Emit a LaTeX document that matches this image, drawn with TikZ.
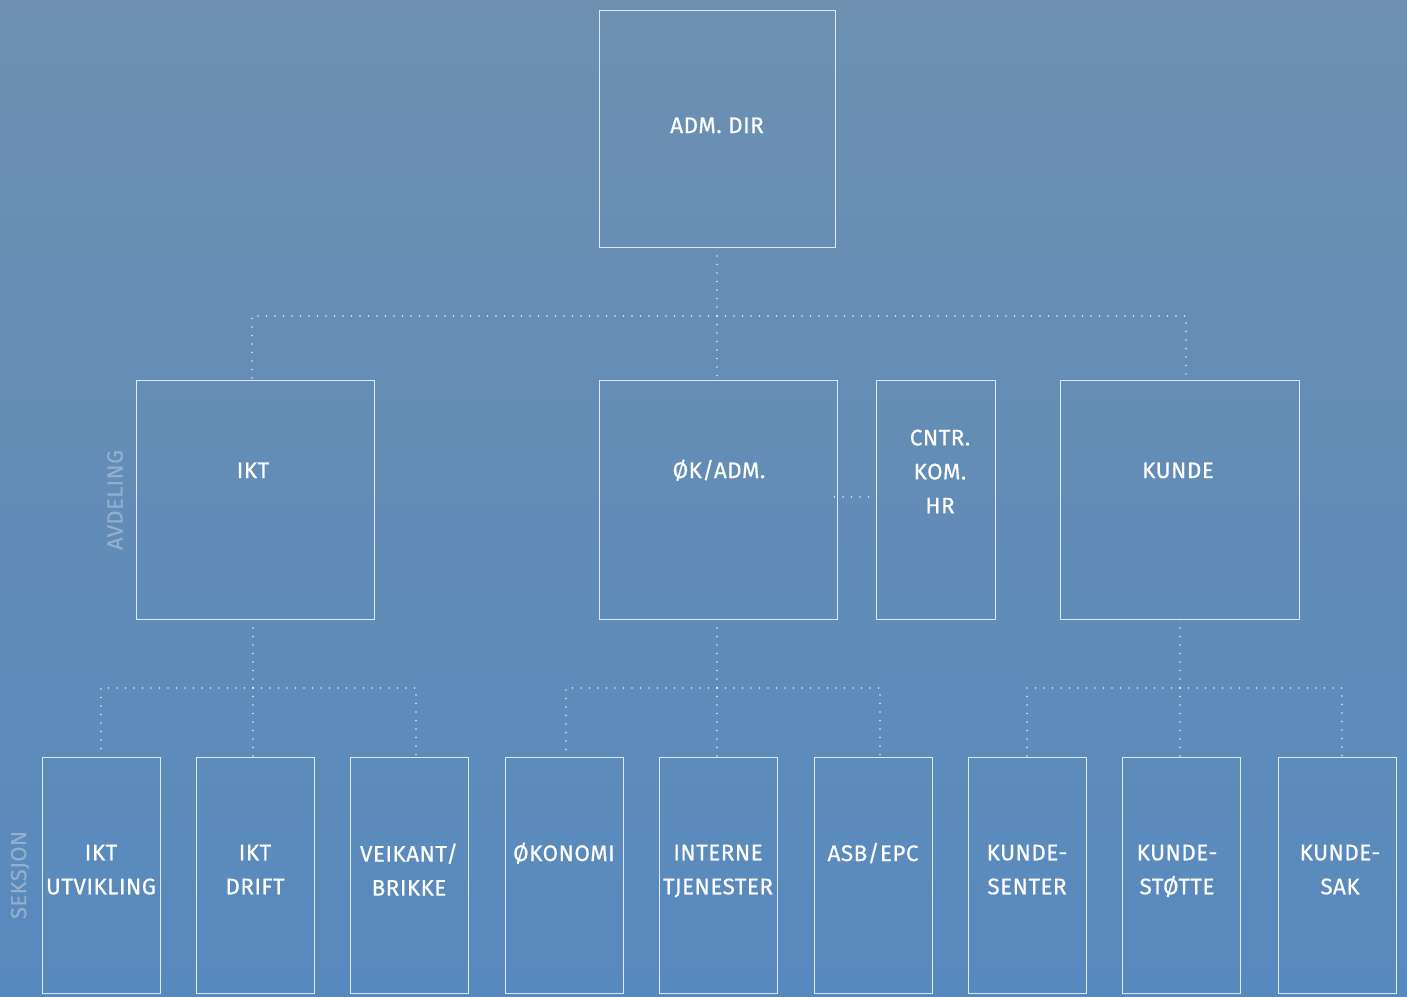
\documentclass[tikz,border=0pt]{standalone}
\usepackage{fontspec}
\setmainfont{Fira Sans}[FakeBold=0.4]
\newfontfamily\lblfont{Fira Sans}[FakeBold=0.5, LetterSpace=2]
\newfontfamily\sidefont{Fira Sans}[FakeBold=0.3, LetterSpace=2]
\usetikzlibrary{calc}
\definecolor{bgtop}{RGB}{109,144,176}
\definecolor{bgbot}{RGB}{88,137,190}
\definecolor{linec}{RGB}{220,232,244}
\definecolor{sidec}{RGB}{146,176,206}
\tikzset{
  box/.style={draw=linec, line width=1pt, inner sep=0pt},
  lbl/.style={text=white, font=\lblfont\fontsize{22.5}{34}\selectfont, align=center, inner sep=0pt, text depth=5pt},
  lbl1/.style={lbl, anchor=base},
  side/.style={text=sidec, font=\sidefont\fontsize{22}{24}\selectfont, rotate=90, inner sep=0pt},
  dotline/.style={draw=linec, line width=1.7pt, line cap=round, dash pattern=on 0pt off 8.5pt},
}
\begin{document}
\begin{tikzpicture}[x=1pt,y=-1pt]
\useasboundingbox (0,0) rectangle (1407,996);
\shade[top color=bgtop, bottom color=bgbot] (0,0) rectangle (1407,996);
% level 0
\node[box, minimum width=236pt, minimum height=237pt] (adm) at (717,128.5) {};
\node[lbl1] (admt) at (717,133) {ADM. DIR};
% level 1
\node[box, minimum width=238pt, minimum height=239pt] (ikt) at (255,499.5) {};
\node[box, minimum width=238pt, minimum height=239pt] (okadm) at (718,499.5) {};
\node[box, minimum width=119pt, minimum height=239pt] (cntr) at (935.5,499.5) {};
\node[box, minimum width=239pt, minimum height=239pt] (kunde) at (1179.5,499.5) {};
\node[lbl1] (iktt) at (253,478) {IKT};
\node[lbl1] (okadmt) at (719,478) {ØK/ADM.};
\node[lbl] (cntrt) at (940,474) {CNTR.\\KOM.\\HR};
\node[lbl1] (kundet) at (1178,478) {KUNDE};
\node[side] (avd) at (115,500) {AVDELING};
% level 2
\foreach \n/\x in {s1/101,s2/255,s3/409,s4/564,s5/718,s6/873,s7/1027,s8/1181,s9/1337}{
  \node[box, minimum width=118pt, minimum height=236pt] (\n) at (\x,875) {};
}
\node[lbl] (s1t) at (101,872) {IKT\\UTVIKLING};
\node[lbl] (s2t) at (255,872) {IKT\\DRIFT};
\node[lbl] (s3t) at (409,872) {VEIKANT/\\BRIKKE};
\node[lbl1] (s4t) at (564,861) {ØKONOMI};
\node[lbl] (s5t) at (718,872) {INTERNE\\TJENESTER};
\node[lbl1] (s6t) at (873,861) {ASB/EPC};
\node[lbl] (s7t) at (1027,872) {KUNDE-\\SENTER};
\node[lbl] (s8t) at (1177,872) {KUNDE-\\STØTTE};
\node[lbl] (s9t) at (1340,872) {KUNDE-\\SAK};
\node[side] (seks) at (20,875) {SEKSJON};
% junctions
\coordinate (j0) at (717,316);
\coordinate (j1) at (253,688);
\coordinate (j2) at (717,688);
\coordinate (j3) at (1180,688);
% connectors
\draw[dotline] (adm.south) -- (j0);
\draw[dotline] (j0) -| ($(ikt.north)+(-3,0)$);
\draw[dotline] (j0) -| ($(kunde.north)+(6.5,0)$);
\draw[dotline] (j0) -- (okadm.north -| j0);
\draw[dotline] ($(okadm.east |- 0,497)+(-3,0)$) -- (cntr.west |- 0,497);
\draw[dotline] (ikt.south -| j1) -- (j1);
\draw[dotline] (j1) -| (s1.north);
\draw[dotline] (j1) -| ($(s3.north)+(7,0)$);
\draw[dotline] (j1) -- (s2.north -| j1);
\draw[dotline] (okadm.south -| j2) -- (j2);
\draw[dotline] (j2) -| ($(s4.north)+(2,0)$);
\draw[dotline] (j2) -| ($(s6.north)+(7,0)$);
\draw[dotline] (j2) -- (s5.north -| j2);
\draw[dotline] (kunde.south -| j3) -- (j3);
\draw[dotline] (j3) -| (s7.north);
\draw[dotline] (j3) -| ($(s9.north)+(5,0)$);
\draw[dotline] (j3) -- (s8.north -| j3);
\end{tikzpicture}
\end{document}
